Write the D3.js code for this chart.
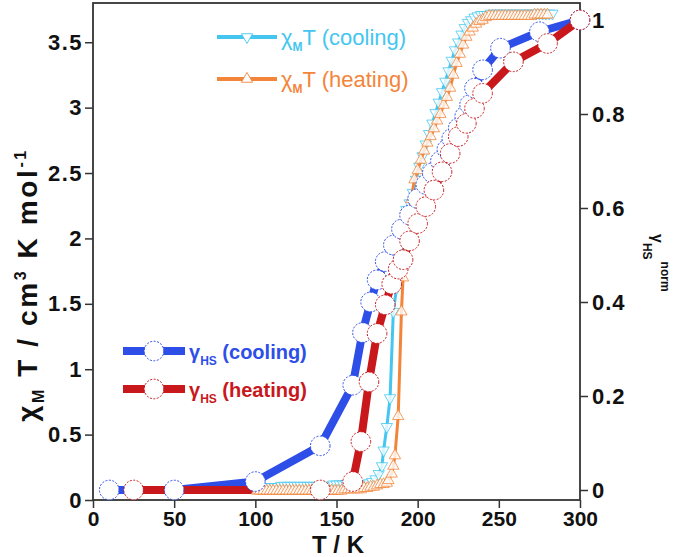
<!DOCTYPE html>
<html><head><meta charset="utf-8">
<script src="https://cdn.jsdelivr.net/npm/d3@7"></script>
<style>body{margin:0;background:#fff}svg{display:block}</style>
</head><body>
<svg id="c" width="676" height="557"></svg>
<script>
// ---- data ----
const xTicks = [0, 50, 100, 150, 200, 250, 300];
const yLeftTicks = [0, 0.5, 1, 1.5, 2, 2.5, 3, 3.5];
const yRightTicks = [0, 0.2, 0.4, 0.6, 0.8, 1];

// gamma_HS (normalised), cooling
const gCoolT = [10, 50, 100, 140, 160, 166, 171, 175, 180, 185, 190, 195, 200, 205, 209, 214, 218, 221, 225, 229, 232, 235, 240, 251, 275, 300];
const gCoolV = [0, 0, 0.018, 0.094, 0.223, 0.335, 0.40, 0.447, 0.486, 0.521, 0.555, 0.585, 0.62, 0.65, 0.675, 0.70, 0.725, 0.748, 0.77, 0.795, 0.82, 0.855, 0.894, 0.94, 0.975, 1.0];
// gamma_HS (normalised), heating
const gHeatT = [25, 140, 160, 165, 170, 175, 180, 184, 188, 191, 195, 200, 205, 210, 215, 220, 225, 230, 235, 240, 259, 280, 300];
const gHeatV = [0, 0, 0.018, 0.103, 0.23, 0.333, 0.394, 0.438, 0.47, 0.49, 0.53, 0.567, 0.603, 0.638, 0.677, 0.716, 0.752, 0.78, 0.812, 0.844, 0.911, 0.95, 1.0];

// chi_M T, cooling
const cCoolT = [100, 102, 104, 106, 108, 110, 112, 114, 116, 118, 120, 122, 124, 126, 128, 130, 132, 134, 136, 138, 140, 142, 144, 146, 148, 150, 152, 154, 156, 158, 160, 162, 164, 166, 168, 170, 172, 174, 176, 178, 179, 181, 183, 185, 187, 189, 191, 193, 195, 197, 199, 201, 203, 205, 207, 209, 211, 213, 215, 217, 219, 221, 223, 225, 227, 229, 231, 233, 235, 237, 239, 241, 243, 245, 247, 249, 251, 253, 255, 257, 259, 261, 263, 265, 267, 269, 271, 273, 275, 277, 279, 281, 283];
const cCoolV = [0.10, 0.10, 0.10, 0.10, 0.10, 0.10, 0.10, 0.10, 0.11, 0.11, 0.11, 0.11, 0.11, 0.11, 0.11, 0.11, 0.11, 0.11, 0.11, 0.11, 0.11, 0.11, 0.11, 0.11, 0.12, 0.12, 0.12, 0.12, 0.12, 0.12, 0.12, 0.12, 0.12, 0.12, 0.12, 0.13, 0.14, 0.16, 0.20, 0.26, 0.38, 0.56, 0.78, 1.44, 1.62, 1.85, 2.05, 2.22, 2.27, 2.35, 2.45, 2.55, 2.63, 2.72, 2.80, 2.88, 2.96, 3.04, 3.12, 3.20, 3.28, 3.36, 3.44, 3.50, 3.56, 3.61, 3.65, 3.67, 3.69, 3.70, 3.71, 3.71, 3.71, 3.72, 3.72, 3.72, 3.72, 3.72, 3.72, 3.72, 3.72, 3.72, 3.72, 3.72, 3.72, 3.72, 3.72, 3.72, 3.72, 3.72, 3.72, 3.72, 3.72];
// chi_M T, heating
const cHeatT = [101, 103, 105, 107, 109, 111, 113, 115, 117, 119, 121, 123, 125, 127, 129, 131, 133, 135, 137, 139, 141, 143, 145, 147, 149, 151, 153, 155, 157, 159, 161, 163, 165, 167, 169, 171, 173, 175, 177, 179, 181, 182, 184, 185, 186, 188, 190, 191, 192, 194, 196, 198, 200, 202, 204, 206, 208, 210, 212, 214, 216, 218, 220, 222, 224, 226, 228, 230, 232, 234, 236, 238, 240, 242, 244, 246, 248, 250, 252, 254, 256, 258, 260, 262, 264, 266, 268, 270, 272, 274, 276, 278, 280];
const cHeatV = [0.07, 0.07, 0.07, 0.07, 0.07, 0.07, 0.07, 0.07, 0.07, 0.07, 0.07, 0.07, 0.07, 0.07, 0.07, 0.07, 0.07, 0.07, 0.07, 0.07, 0.07, 0.07, 0.07, 0.07, 0.07, 0.07, 0.07, 0.08, 0.08, 0.08, 0.08, 0.08, 0.08, 0.09, 0.09, 0.10, 0.10, 0.11, 0.12, 0.12, 0.13, 0.15, 0.20, 0.26, 0.34, 0.64, 1.44, 1.70, 1.95, 2.10, 2.30, 2.45, 2.52, 2.60, 2.67, 2.73, 2.78, 2.84, 2.90, 2.95, 3.02, 3.08, 3.15, 3.25, 3.34, 3.41, 3.48, 3.54, 3.58, 3.61, 3.64, 3.66, 3.67, 3.69, 3.70, 3.70, 3.70, 3.70, 3.70, 3.70, 3.70, 3.70, 3.70, 3.70, 3.70, 3.70, 3.70, 3.70, 3.71, 3.71, 3.71, 3.71, 3.71];

// ---- drawing ----
const C = {blue: "#2e4ee8", red: "#c8181c", cyan: "#44c6f0", orange: "#f3853a", axis: "#333"};
const svg = d3.select("#c");
const x = d3.scaleLinear().domain([0, 300]).range([93, 580]);
const yL = d3.scaleLinear().domain([0, 3.8]).range([500, 3]);
const yR = d3.scaleLinear().domain([0, 1]).range([490, 20]);
const fmt = d3.format("~g");
const lf = "'Liberation Sans', Arial, sans-serif";

function styleAxis(size, ls) {
  return g => {
    g.selectAll("path").remove();
    g.selectAll("line").attr("stroke", C.axis).attr("stroke-width", 1.5);
    g.selectAll("text").attr("font-family", lf).attr("font-weight", "bold").attr("font-size", size)
      .attr("letter-spacing", ls).attr("fill", "#111");
  };
}
svg.append("g").attr("transform", "translate(0,500)")
  .call(d3.axisBottom(x).tickValues(xTicks).tickFormat(fmt).tickSize(8).tickPadding(3))
  .call(styleAxis(21, 0));
svg.append("g").attr("transform", "translate(93,0)")
  .call(d3.axisLeft(yL).tickValues(yLeftTicks).tickFormat(fmt).tickSize(8).tickPadding(2))
  .call(styleAxis(22, 1.5));
svg.append("g").attr("transform", "translate(580,0)")
  .call(d3.axisRight(yR).tickValues(yRightTicks).tickFormat(fmt).tickSize(8).tickPadding(4))
  .call(styleAxis(22, 1));
svg.append("rect").attr("x", 93).attr("y", 3).attr("width", 487).attr("height", 497)
  .attr("fill", "none").attr("stroke", C.axis).attr("stroke-width", 1.8);

const zip = (a, b) => a.map((t, i) => [t, b[i]]);
const lineL = d3.line().x(d => x(d[0])).y(d => yL(d[1]));
const lineR = d3.line().x(d => x(d[0])).y(d => yR(d[1]));
const gC = zip(gCoolT, gCoolV), gH = zip(gHeatT, gHeatV);
const cC = zip(cCoolT, cCoolV), cH = zip(cHeatT, cHeatV);

// gamma lines
svg.append("path").attr("d", lineR(gC)).attr("fill", "none").attr("stroke", C.blue).attr("stroke-width", 8).attr("stroke-linejoin", "round");
svg.append("path").attr("d", lineR(gH)).attr("fill", "none").attr("stroke", C.red).attr("stroke-width", 8).attr("stroke-linejoin", "round");

// chi T series
const tri = d3.symbol().type(d3.symbolTriangle).size(55);
function chiSeries(data, color, down) {
  svg.append("path").attr("d", lineL(data)).attr("fill", "none").attr("stroke", color).attr("stroke-width", 3);
  svg.append("g").selectAll("path").data(data).join("path")
    .attr("d", tri())
    .attr("transform", d => `translate(${x(d[0])},${yL(d[1])}) rotate(${down ? 180 : 0})`)
    .attr("fill", "#fff").attr("fill-opacity", 0.8).attr("stroke", color).attr("stroke-width", 0.8);
}
chiSeries(cC, C.cyan, true);
chiSeries(cH, C.orange, false);

// gamma circles
function circles(data, color) {
  svg.append("g").selectAll("circle").data(data).join("circle")
    .attr("cx", d => x(d[0])).attr("cy", d => yR(d[1])).attr("r", 9.8)
    .attr("fill", "#fff").attr("stroke", color).attr("stroke-width", 1).attr("stroke-dasharray", "2,1.5");
}
circles(gC, C.blue);
circles(gH, C.red);

// ---- axis titles ----
svg.append("text").attr("x", 338).attr("y", 553).attr("text-anchor", "middle")
  .attr("font-family", lf).attr("font-weight", "bold").attr("font-size", 24).attr("fill", "#111").text("T / K");

const yt = svg.append("text").attr("transform", "translate(37,285) rotate(-90)").attr("text-anchor", "middle")
  .attr("font-family", lf).attr("font-weight", "bold").attr("font-size", 28).attr("fill", "#111").attr("letter-spacing", 2.6);
yt.append("tspan").text("χ");
yt.append("tspan").attr("font-size", 16).attr("dy", 7).text("M");
yt.append("tspan").attr("dy", -7).text(" T / cm");
yt.append("tspan").attr("font-size", 16).attr("dy", -11).text("3");
yt.append("tspan").attr("dy", 11).text(" K mol");
yt.append("tspan").attr("font-size", 16).attr("dy", -11).text("-1");

const yr = svg.append("text").attr("transform", "translate(652,234) rotate(90)")
  .attr("font-family", lf).attr("font-weight", "bold").attr("font-size", 16).attr("fill", "#111");
yr.append("tspan").text("γ");
yr.append("tspan").attr("font-size", 12).attr("dy", 9).text("HS");
yr.append("tspan").attr("font-size", 12).attr("dy", -18).attr("dx", 2).text("norm");

// ---- legends ----
function legend(x0, x1, y, color, sym, lineW, parts, bold, fs) {
  svg.append("line").attr("x1", x0).attr("x2", x1).attr("y1", y).attr("y2", y).attr("stroke", color).attr("stroke-width", lineW);
  const xm = (x0 + x1) / 2;
  if (sym === "circle") {
    svg.append("circle").attr("cx", xm).attr("cy", y).attr("r", 9.8).attr("fill", "#fff")
      .attr("stroke", color).attr("stroke-width", 1).attr("stroke-dasharray", "2,1.5");
  } else {
    svg.append("path").attr("d", tri()).attr("transform", `translate(${xm},${y}) rotate(${sym === "down" ? 180 : 0})`)
      .attr("fill", "#fff").attr("stroke", color).attr("stroke-width", 0.9);
  }
  const t = svg.append("text").attr("x", x1 + 4).attr("y", y + 8).attr("font-family", lf)
    .attr("font-weight", bold ? "bold" : "normal").attr("font-size", fs).attr("fill", color);
  t.append("tspan").text(parts[0]);
  t.append("tspan").attr("font-size", 12).attr("dy", 6).attr("font-weight", "bold").text(parts[1]);
  t.append("tspan").attr("dy", -6).text(parts[2]);
}
legend(217, 277, 37, C.cyan, "down", 4, ["χ", "M", "T (cooling)"], false, 22);
legend(217, 277, 79, C.orange, "up", 4, ["χ", "M", "T (heating)"], false, 22);
legend(123, 185, 351, C.blue, "circle", 8, ["γ", "HS", " (cooling)"], true, 20);
legend(123, 185, 389, C.red, "circle", 8, ["γ", "HS", " (heating)"], true, 20);
</script>
</body></html>
